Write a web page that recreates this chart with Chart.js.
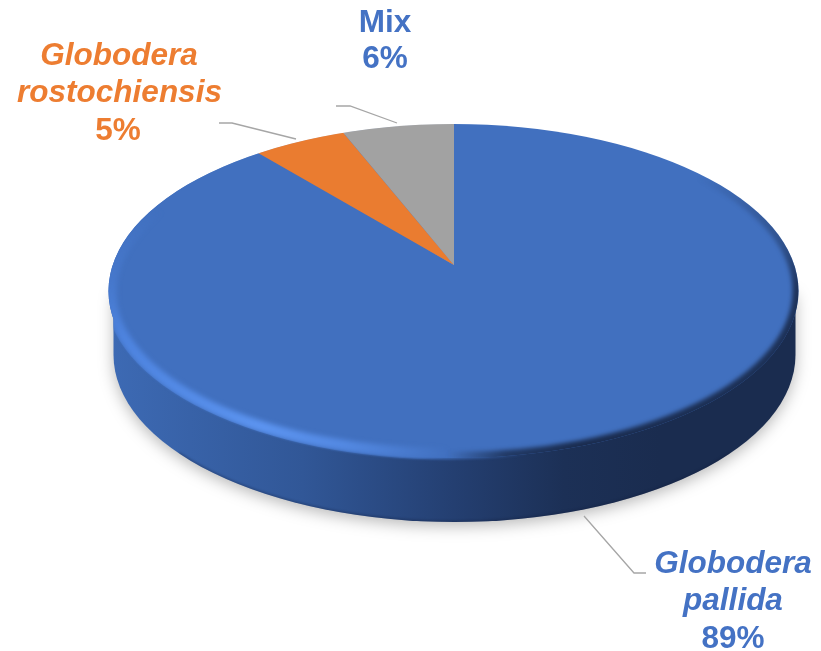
<!DOCTYPE html>
<html><head><meta charset="utf-8">
<script src="https://cdn.jsdelivr.net/npm/chart.js@4"></script>
<style>html,body{margin:0;padding:0;background:#fff;overflow:hidden}#w{width:821px;height:651px}canvas{display:block}</style>
</head><body><div id="w"><canvas id="c" width="821" height="651"></canvas></div>
<script>
const categories = ['Globodera pallida', 'Globodera rostochiensis', 'Mix'];
const shares = [89, 5, 6];
const sliceColors = ['#4170BF', '#EA7C30', '#A2A2A2'];
const textColors = ['#4472C4', '#ED7D31', '#4472C4'];

const face = {x: 453.5, y: 291, rx: 345, ry: 167};
const lip = {x: 449, y: 292.5, rx: 344, ry: 167};
const base = {x: 454.5, y: 355, rx: 341, ry: 167};
const apex = {x: 454, y: 265, sx: 298, sy: 141, k: 1.7};

function sidePath(ctx) {
  ctx.beginPath();
  ctx.ellipse(base.x, base.y, base.rx, base.ry, 0, 0, Math.PI);
  ctx.lineTo(base.x - base.rx, face.y);
  ctx.lineTo(base.x + base.rx, face.y);
  ctx.closePath();
}
function ellipsePath(ctx, e) {
  ctx.beginPath();
  ctx.ellipse(e.x, e.y, e.rx, e.ry, 0, 0, Math.PI * 2);
}
function clipBody(ctx) {
  sidePath(ctx);
  ctx.moveTo(face.x + face.rx, face.y);
  ctx.ellipse(face.x, face.y, face.rx, face.ry, 0, 0, Math.PI * 2);
  ctx.clip('nonzero');
}

const perspective = {
  id: 'perspective',
  beforeDatasetsDraw(chart) {
    const ctx = chart.ctx;
    ctx.save();
    ctx.shadowColor = 'rgba(0,0,0,0.28)';
    ctx.shadowBlur = 15;
    ctx.shadowOffsetY = 4;
    const g = ctx.createLinearGradient(110, 0, 798, 0);
    g.addColorStop(0, '#3D6AB4');
    g.addColorStop(0.28, '#315797');
    g.addColorStop(0.5, '#243F71');
    g.addColorStop(0.66, '#1C3056');
    g.addColorStop(0.8, '#1A2C4F');
    g.addColorStop(1, '#1A2C4F');
    ctx.fillStyle = g;
    sidePath(ctx);
    ctx.fill();
    ctx.restore();

    // darker line along the lower edge of the rim
    ctx.save();
    sidePath(ctx);
    ctx.clip();
    ctx.filter = 'blur(1px)';
    ctx.strokeStyle = 'rgba(15,28,55,0.3)';
    ctx.lineWidth = 3;
    ctx.beginPath();
    ctx.ellipse(base.x, base.y, base.rx, base.ry, 0, Math.PI * 0.2, Math.PI * 0.8);
    ctx.stroke();
    ctx.restore();

    // slightly lower front lip of the top face
    ctx.save();
    clipBody(ctx);
    ctx.filter = 'blur(1px)';
    const lg = ctx.createLinearGradient(420, 0, 530, 0);
    lg.addColorStop(0, 'rgba(65,112,191,1)');
    lg.addColorStop(1, 'rgba(65,112,191,0)');
    ctx.fillStyle = lg;
    ellipsePath(ctx, lip);
    ctx.fill();
    ctx.restore();

    const meta = chart.getDatasetMeta(0).data[0];
    ctx.save();
    ellipsePath(ctx, face);
    ctx.clip();
    ctx.translate(apex.x, apex.y);
    ctx.scale(apex.k * apex.sx / meta.outerRadius, apex.k * apex.sy / meta.outerRadius);
    ctx.translate(-meta.x, -meta.y);
  },
  afterDatasetsDraw(chart) {
    const ctx = chart.ctx;
    ctx.restore();

    // highlight along the front-left bevel
    ctx.save();
    clipBody(ctx);
    ellipsePath(ctx, lip);
    ctx.clip();
    const a = d => d / 360;
    const hi = ctx.createConicGradient(0, lip.x, lip.y);
    hi.addColorStop(0, 'rgba(88,143,235,0)');
    hi.addColorStop(a(90), 'rgba(88,143,235,0)');
    hi.addColorStop(a(125), 'rgba(88,143,235,0.8)');
    hi.addColorStop(a(145), 'rgba(92,148,240,1)');
    hi.addColorStop(a(172), 'rgba(80,135,228,0.85)');
    hi.addColorStop(a(182), 'rgba(80,135,228,0.35)');
    hi.addColorStop(a(196), 'rgba(80,135,228,0)');
    hi.addColorStop(1, 'rgba(88,143,235,0)');
    ctx.filter = 'blur(2.5px)';
    ctx.strokeStyle = hi;
    ctx.lineWidth = 11;
    ctx.beginPath();
    ctx.ellipse(lip.x, lip.y, lip.rx - 6, lip.ry - 6, 0, 0, Math.PI * 2);
    ctx.stroke();
    ctx.restore();

    // soft dark bevel on the far right
    ctx.save();
    ellipsePath(ctx, face);
    ctx.clip();
    const dk = ctx.createConicGradient(0, face.x, face.y);
    dk.addColorStop(0, 'rgba(26,44,79,0.9)');
    dk.addColorStop(a(50), 'rgba(26,44,79,1)');
    dk.addColorStop(a(72), 'rgba(26,44,79,0.8)');
    dk.addColorStop(a(92), 'rgba(26,44,79,0)');
    dk.addColorStop(a(335), 'rgba(26,44,79,0)');
    dk.addColorStop(a(352), 'rgba(26,44,79,0.45)');
    dk.addColorStop(1, 'rgba(26,44,79,0.9)');
    ctx.filter = 'blur(2px)';
    ctx.strokeStyle = dk;
    ctx.lineWidth = 12;
    ellipsePath(ctx, face);
    ctx.stroke();
    ctx.restore();
  },
  afterDraw(chart) {
    const ctx = chart.ctx;
    ctx.save();
    ctx.strokeStyle = '#A6A6A6';
    ctx.lineWidth = 1.3;
    [[[584,516],[634,573],[646,573]],
     [[219,123],[232,123],[296,139]],
     [[336,106],[350,106],[397,123]]].forEach(l => {
      ctx.beginPath();
      l.forEach((p, i) => i ? ctx.lineTo(p[0], p[1]) : ctx.moveTo(p[0], p[1]));
      ctx.stroke();
    });
    ctx.textAlign = 'center';
    ctx.textBaseline = 'alphabetic';
    const fontFamily = '"Liberation Sans", Arial, sans-serif';
    const lines = [
      [['Globodera', 733, 573, true], ['pallida', 733, 610, true], [shares[0] + '%', 733, 648, false]],
      [['Globodera', 119, 65, true], ['rostochiensis', 119.5, 102, true], [shares[1] + '%', 118, 140, false]],
      [[categories[2], 385, 32, false], [shares[2] + '%', 385, 68, false]]
    ];
    lines.forEach((grp, i) => {
      ctx.fillStyle = textColors[i];
      grp.forEach(t => {
        ctx.font = (t[3] ? 'italic ' : '') + 'bold 31.5px ' + fontFamily;
        ctx.fillText(t[0], t[1], t[2]);
      });
    });
    ctx.restore();
  }
};

new Chart(document.getElementById('c'), {
  type: 'pie',
  data: {
    labels: categories,
    datasets: [{data: shares, backgroundColor: sliceColors, borderWidth: 0}]
  },
  options: {
    responsive: false,
    animation: false,
    layout: {padding: 0},
    plugins: {legend: {display: false}, tooltip: {enabled: false}}
  },
  plugins: [perspective]
});
</script>
</body></html>
